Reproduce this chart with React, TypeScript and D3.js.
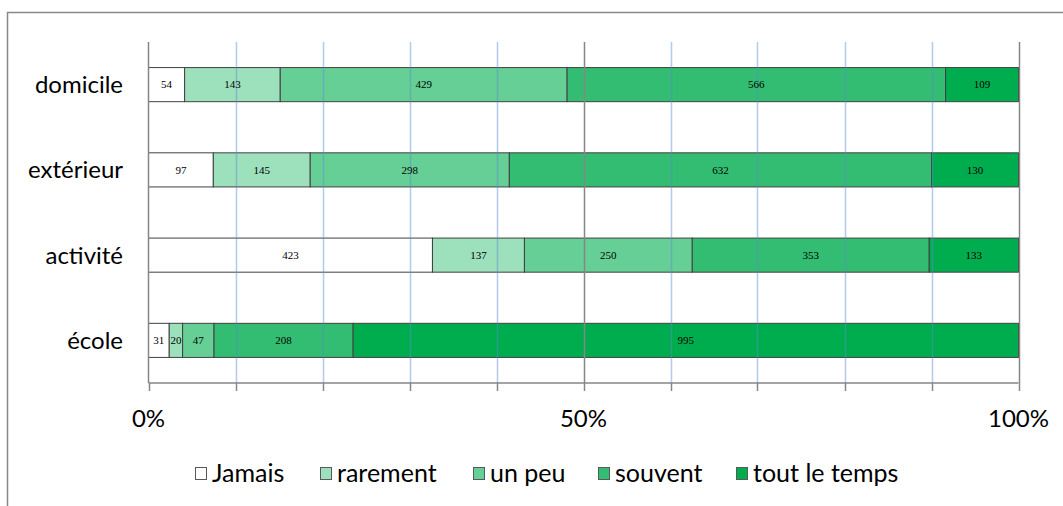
import React from 'react';
import * as d3 from 'd3';

const categories = ['domicile', 'extérieur', 'activité', 'école'];
const seriesNames = ['Jamais', 'rarement', 'un peu', 'souvent', 'tout le temps'];
const jamais = [54, 97, 423, 31];
const rarement = [143, 145, 137, 20];
const unPeu = [429, 298, 250, 47];
const souvent = [566, 632, 353, 208];
const toutLeTemps = [109, 130, 133, 995];
const tickValues = [0, 0.5, 1];
const tickLabels = ['0%', '50%', '100%'];
const gridValues = [0.1, 0.2, 0.3, 0.4, 0.5, 0.6, 0.7, 0.8, 0.9, 1];
const colors = ['#ffffff', '#9de0bc', '#66cf96', '#33bd72', '#00ad4e'];

const W = 1063;
const H = 506;
const SANS = 'Lato, "Open Sans", sans-serif';
const SERIF = '"Liberation Serif", "Times New Roman", serif';

export default function App() {
  const seriesValues = [jamais, rarement, unPeu, souvent, toutLeTemps];
  const rows = categories.map((c, i) => {
    const r: any = { cat: c };
    seriesNames.forEach((s, j) => (r[s] = seriesValues[j][i]));
    return r;
  });
  const stacked = d3.stack<any>().keys(seriesNames).offset(d3.stackOffsetExpand)(rows);

  const x = d3.scaleLinear().domain([0, 1]).range([148.5, 1018.5]);
  const y = d3.scaleBand<string>().domain(categories).range([42, 383]).paddingInner(0.6).paddingOuter(0.3);
  const axisY = 383;

  const legendX = [195, 320, 473, 598, 736];

  return (
    <svg width={W} height={H} style={{ position: 'absolute', left: 0, top: 0, background: '#fff' }}>
      <rect x={7.5} y={12.5} width={1200} height={700} fill="#fff" stroke="#898989" strokeWidth={1.5} />

      {/* bars */}
      {stacked.map((s, j) => (
        <g key={s.key}>
          {s.map((d, i) => {
            const x0 = x(d[0]);
            const x1 = x(d[1]);
            const yy = y(categories[i])!;
            return (
              <rect key={i} x={x0} y={yy} width={x1 - x0} height={y.bandwidth()} fill={colors[j]} stroke="#404040" strokeWidth={1} />
            );
          })}
        </g>
      ))}

      {/* gridlines drawn over bars */}
      {gridValues.map((g) => {
        const major = Math.abs(g - 0.5) < 1e-6 || Math.abs(g - 1) < 1e-6;
        return (
          <line
            key={g}
            x1={Math.round(x(g)) + 0.5}
            x2={Math.round(x(g)) + 0.5}
            y1={42}
            y2={axisY}
            stroke={major ? '#868686' : '#5b8bd0'}
            strokeOpacity={major ? 1 : 0.45}
            strokeWidth={1.5}
          />
        );
      })}

      {/* bar labels */}
      {stacked.map((s, j) => (
        <g key={'l' + s.key}>
          {s.map((d, i) => {
            const x0 = x(d[0]);
            const x1 = x(d[1]);
            const yy = y(categories[i])! + y.bandwidth() / 2;
            return (
              <text key={i} x={(x0 + x1) / 2} y={yy} dy="0.35em" textAnchor="middle" fontFamily={SERIF} fontSize={11} fill="#000">
                {seriesValues[j][i]}
              </text>
            );
          })}
        </g>
      ))}

      {/* axes */}
      <line x1={148.5} x2={148.5} y1={42} y2={axisY} stroke="#868686" strokeWidth={1.5} />
      <line x1={148.5} x2={1018.5} y1={axisY} y2={axisY} stroke="#868686" strokeWidth={1.5} />
      {[0, ...gridValues].map((g) => (
        <line key={'t' + g} x1={Math.round(x(g)) + 0.5} x2={Math.round(x(g)) + 0.5} y1={axisY} y2={axisY + 8} stroke="#868686" strokeWidth={1.5} />
      ))}
      {tickValues.map((t, i) => (
        <text key={'tl' + t} x={x(t)} y={427} textAnchor="middle" fontFamily={SANS} fontSize={24} fill="#000">
          {tickLabels[i]}
        </text>
      ))}

      {/* category labels */}
      {categories.map((c) => (
        <text key={c} x={123} y={y(c)! + y.bandwidth() / 2} dy="0.35em" textAnchor="end" fontFamily={SANS} fontSize={24} fill="#000">
          {c}
        </text>
      ))}

      {/* legend */}
      {seriesNames.map((s, j) => (
        <g key={'lg' + s}>
          <rect x={legendX[j] + 0.5} y={467.5} width={11} height={12} fill={colors[j]} stroke="#595959" strokeWidth={1} />
          <text x={legendX[j] + 17} y={482} fontFamily={SANS} fontSize={25} fill="#000">
            {s}
          </text>
        </g>
      ))}
    </svg>
  );
}
